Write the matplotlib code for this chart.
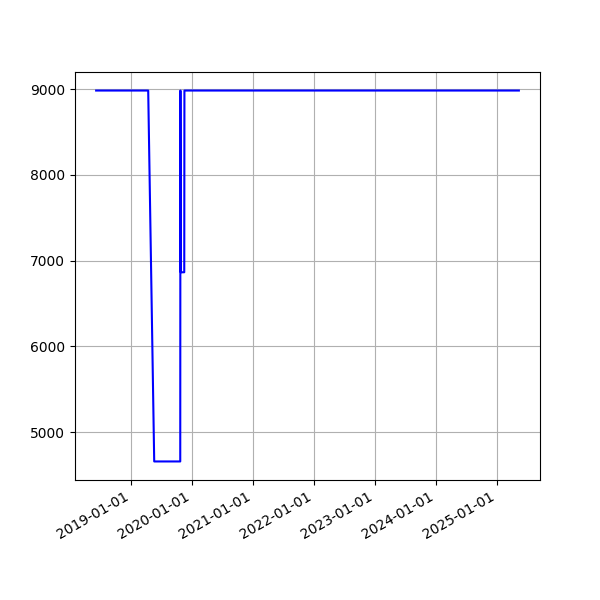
import numpy as np
import pandas as pd
import matplotlib
matplotlib.use('Agg')
import matplotlib.pyplot as plt
import matplotlib.dates as mdates

# fechas y valores
dates = ['2018-06-04', '2019-04-12', '2019-05-18', '2019-10-21', '2019-10-22',
         '2019-10-24', '2019-11-14', '2019-11-15', '2025-05-11']
values = [8985, 8985, 4658, 4658, 8985, 6865, 6865, 8985, 8985]

x = pd.to_datetime(dates)

fig, ax = plt.subplots(figsize=(6, 6), dpi=100)
ax.plot(x, values, color='b')

ax.xaxis.set_major_locator(mdates.YearLocator())
ax.xaxis.set_major_formatter(mdates.DateFormatter('%Y-%m-%d'))
ax.grid(True)
fig.autofmt_xdate()

plt.savefig('out.png')
plt.close()
